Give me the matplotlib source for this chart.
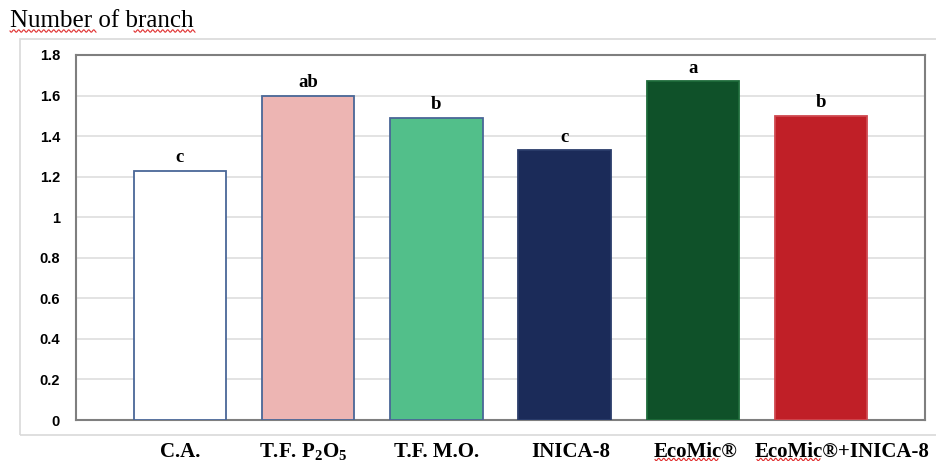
import numpy as np
import matplotlib
matplotlib.use("Agg")
import matplotlib.pyplot as plt
from matplotlib.patches import Rectangle

plt.rcParams["mathtext.fontset"] = "custom"
plt.rcParams["mathtext.rm"] = "Liberation Serif:bold"
plt.rcParams["mathtext.bf"] = "Liberation Serif:bold"

categories = ["C.A.", "T.F. P$_2$O$_5$", "T.F. M.O.", "INICA-8", "EcoMic®", "EcoMic®+INICA-8"]
values = [1.23, 1.60, 1.49, 1.33, 1.67, 1.50]
letters = ["c", "ab", "b", "c", "a", "b"]
colors = ["#ffffff", "#edb5b3", "#52bf8a", "#1b2b59", "#0f5129", "#c01f27"]
edges = ["#4a6797", "#4a6797", "#4a6797", "#2b3d6b", "#1e6b3a", "#d0484f"]
label_shift = [0, -0.04, 0, 0.05, 0.02, 0.16]  # small offsets of category labels

W, H = 936, 461
fig = plt.figure(figsize=(W / 100, H / 100), dpi=100)

# outer chart frame
fig.add_artist(Rectangle((20 / W, 1 - 435 / H), (W + 5 - 20) / W, (435 - 39) / H,
                         transform=fig.transFigure, fill=False,
                         edgecolor="#d9d9d9", linewidth=1.2))

ax = fig.add_axes([76 / W, 1 - 420 / H, (925 - 76) / W, (420 - 55) / H])
x = np.arange(len(categories))
ax.bar(x, values, width=0.72, color=colors, edgecolor=edges, linewidth=1.3, zorder=3)

for xi, v, lab in zip(x, values, letters):
    ax.text(xi, v + 0.042, lab, ha="center", va="baseline", fontsize=13.5,
            fontweight="bold", family="Liberation Serif", zorder=4)

ax.set_xlim(-0.81, 5.81)
ax.set_ylim(0, 1.8)
ax.set_yticks(np.arange(0, 1.81, 0.2))
ax.set_yticklabels(["0", "0.2", "0.4", "0.6", "0.8", "1", "1.2", "1.4", "1.6", "1.8"],
                   fontsize=10.5, fontweight="bold", family="Liberation Sans")
ax.set_xticks(x)
ax.set_xticklabels([])
ax.tick_params(axis="y", length=0, pad=11.5)
ax.tick_params(axis="x", length=0)
ax.grid(axis="y", color="#dedede", linewidth=1.2, zorder=0)
for s in ax.spines.values():
    s.set_color("#7f7f7f")
    s.set_linewidth(1.5)

# category labels below the frame
for xi, lab, sh in zip(x, categories, label_shift):
    ax.text(xi + sh, -(457 - 420) / 365, lab, transform=ax.get_xaxis_transform(),
            ha="center", va="baseline", fontsize=15, fontweight="bold",
            family="Liberation Serif", clip_on=False)

fig.text(10 / W, 1 - 27 / H, "Number of branch", fontsize=18, family="Liberation Serif",
         va="baseline", ha="left")


def squiggle(x0, x1, y):
    xs = np.linspace(x0, x1, int((x1 - x0) * 2))
    ys = y + 1.2 * np.sin((xs - x0) * np.pi / 2.5)
    fig.add_artist(plt.Line2D(xs / W, 1 - ys / H, transform=fig.transFigure,
                              color="#e03030", linewidth=0.8))


squiggle(10, 96, 31)
squiggle(134, 195, 31)
squiggle(655, 718, 459.5)
squiggle(757, 820, 459.5)

fig.savefig("out.png", dpi=100)
